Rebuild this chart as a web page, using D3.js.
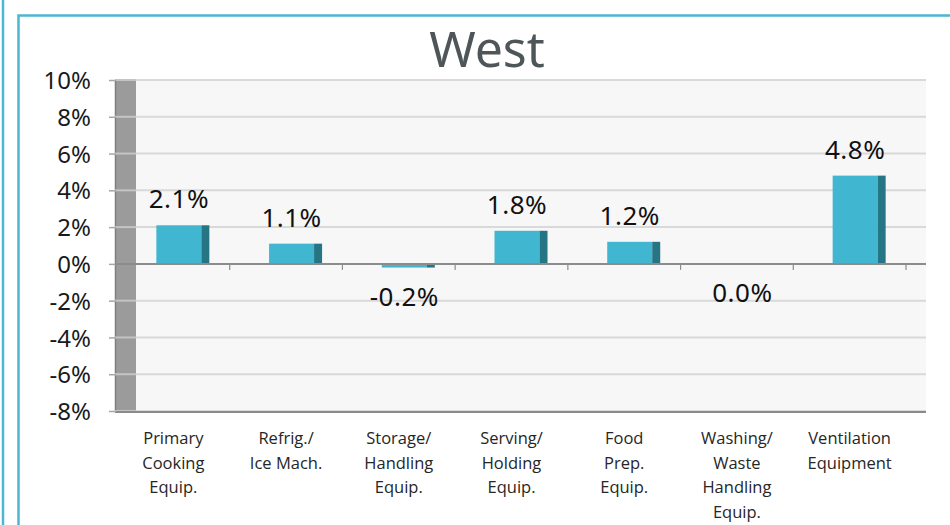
<!DOCTYPE html>
<html>
<head>
<meta charset="utf-8">
<script src="https://cdn.jsdelivr.net/npm/d3@7"></script>
<style>
  body { margin: 0; background: #fff; }
  svg { display: block; }
</style>
</head>
<body>
<div id="chart"></div>
<script>
// data
const categories = [
  "Primary\nCooking\nEquip.",
  "Refrig./\nIce Mach.",
  "Storage/\nHandling\nEquip.",
  "Serving/\nHolding\nEquip.",
  "Food\nPrep.\nEquip.",
  "Washing/\nWaste\nHandling\nEquip.",
  "Ventilation\nEquipment"
];
const values = [2.1, 1.1, -0.2, 1.8, 1.2, 0.0, 4.8];
const yTicks = [-8, -6, -4, -2, 0, 2, 4, 6, 8, 10];
const title = "West";

const W = 950, H = 525;
const depth = 20; // 3d wall offset

const svg = d3.select("#chart")
  .append("svg")
    .attr("width", W)
    .attr("height", H);

// panel frames
svg.append("line")
  .attr("x1", 3).attr("x2", 3).attr("y1", 0).attr("y2", H)
  .attr("stroke", "#4bb7d1").attr("stroke-width", 2.5);
svg.append("rect")
  .attr("x", 18.5).attr("y", 15.5)
  .attr("width", 1000).attr("height", 600)
  .attr("fill", "none")
  .attr("stroke", "#4bb7d1").attr("stroke-width", 2.5);

// scales
const x = d3.scaleBand()
  .domain(d3.range(categories.length))
  .range([117, 906])
  .padding(0);

const y = d3.scaleLinear()
  .domain([-8, 10])
  .range([411, 80]);

const x0 = x.range()[0], x1 = x.range()[1];

// back wall
svg.append("rect")
  .attr("x", x0 + depth - 1).attr("y", y(10))
  .attr("width", x1 + depth - (x0 + depth - 1)).attr("height", y(-8) - y(10))
  .attr("fill", "#f7f7f7");

// side wall
svg.append("rect")
  .attr("x", x0 - 2).attr("y", y(10))
  .attr("width", depth + 1).attr("height", y(-8) - y(10))
  .attr("fill", "#9b9b9b");
svg.append("line")
  .attr("x1", x0 - 1.5).attr("x2", x0 - 1.5)
  .attr("y1", y(10)).attr("y2", y(-8))
  .attr("stroke", "#7f7f7f").attr("stroke-width", 1.5);

// gridlines
svg.append("g")
  .selectAll("line")
  .data(yTicks.filter(d => d !== 0))
  .join("line")
    .attr("x1", x0 + depth - 1).attr("x2", x1 + depth)
    .attr("y1", d => y(d)).attr("y2", d => y(d))
    .attr("stroke", "#d9d9d9").attr("stroke-width", 2);
svg.append("g")
  .selectAll("line")
  .data(yTicks.filter(d => d !== 0))
  .join("line")
    .attr("x1", x0 - 2).attr("x2", x0 + depth - 1)
    .attr("y1", d => y(d)).attr("y2", d => y(d))
    .attr("stroke", "#c4c4c4").attr("stroke-width", 2);

// floor edge
svg.append("line")
  .attr("x1", x0 - 2).attr("x2", x1 + depth)
  .attr("y1", y(-8) + 1).attr("y2", y(-8) + 1)
  .attr("stroke", "#8a8a8a").attr("stroke-width", 2);

// y axis
const yAxis = svg.append("g")
  .attr("transform", `translate(${x0 - 1},0)`)
  .call(d3.axisLeft(y).tickValues(yTicks).tickSize(7).tickPadding(18)
    .tickFormat(d => d + "%"));
yAxis.select(".domain").remove();
yAxis.selectAll(".tick line").attr("stroke", "#a6a6a6").attr("stroke-width", 1.5);
yAxis.selectAll(".tick text")
  .attr("fill", "#1a1a1a")
  .style("font-family", "'Noto Sans', sans-serif")
  .style("font-size", "24px")
  .attr("dy", "0.36em");

// bars: front face + dark side
const barW = 45, sideW = 8;
const bars = svg.append("g")
  .selectAll("g")
  .data(values)
  .join("g");
bars.append("rect")
  .attr("x", (d, i) => x(i) + x.bandwidth() / 2 - 17)
  .attr("y", d => y(Math.max(d, 0)))
  .attr("width", barW)
  .attr("height", d => Math.abs(y(d) - y(0)))
  .attr("fill", "#41b6d0");
bars.append("rect")
  .attr("x", (d, i) => x(i) + x.bandwidth() / 2 - 17 + barW)
  .attr("y", d => y(Math.max(d, 0)))
  .attr("width", sideW)
  .attr("height", d => Math.abs(y(d) - y(0)))
  .attr("fill", "#267584");

// zero axis with category ticks
svg.append("line")
  .attr("x1", x0 - 2).attr("x2", x1 + depth)
  .attr("y1", y(0)).attr("y2", y(0))
  .attr("stroke", "#8c8c8c").attr("stroke-width", 2);
svg.append("g")
  .selectAll("line")
  .data(d3.range(1, categories.length + 1))
  .join("line")
    .attr("x1", d => x0 + d * x.step()).attr("x2", d => x0 + d * x.step())
    .attr("y1", y(0)).attr("y2", y(0) + 6)
    .attr("stroke", "#8c8c8c").attr("stroke-width", 1.2);

// data labels
svg.append("g")
  .selectAll("text")
  .data(values)
  .join("text")
    .attr("x", (d, i) => x(i) + x.bandwidth() / 2 + 5.5)
    .attr("y", d => d > 0 ? y(d) - 17 : y(d) + 38)
    .attr("text-anchor", "middle")
    .attr("fill", "#111")
    .style("font-family", "'Noto Sans', sans-serif")
    .style("font-size", "26px")
    .style("letter-spacing", "0.5px")
    .text(d => d.toFixed(1) + "%");

// category labels
const cat = svg.append("g")
  .selectAll("text")
  .data(categories)
  .join("text")
    .attr("x", (d, i) => x(i) + x.bandwidth() / 2)
    .attr("y", 444)
    .attr("text-anchor", "middle")
    .attr("fill", "#262626")
    .style("font-family", "'Open Sans', sans-serif")
    .style("font-size", "16.5px");
cat.selectAll("tspan")
  .data(d => d.split("\n"))
  .join("tspan")
    .attr("x", function() { return this.parentNode.getAttribute("x"); })
    .attr("dy", (d, i) => i === 0 ? 0 : 24.7)
    .text(d => d);

// title
svg.append("text")
  .attr("x", 487)
  .attr("y", 67)
  .attr("text-anchor", "middle")
  .attr("fill", "#4e5659")
  .style("font-family", "'Noto Sans', sans-serif")
  .style("font-size", "50px")
  .text(title);
</script>
</body>
</html>
